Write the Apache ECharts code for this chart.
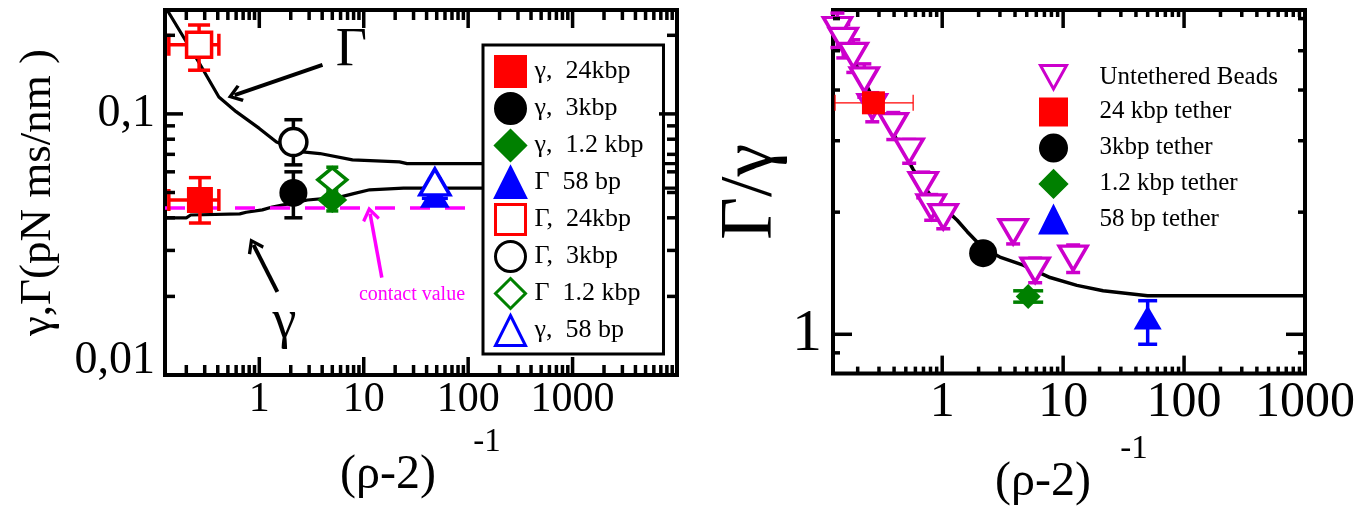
<!DOCTYPE html>
<html>
<head>
<meta charset="utf-8">
<script src="https://cdn.jsdelivr.net/npm/echarts@6/dist/echarts.min.js"></script>
<style>
html, body { margin: 0; padding: 0; background: #fff; }
#chart { width: 1371px; height: 511px; }
</style>
</head>
<body>
<div id="chart"></div>
<script>
var FONT = 'Liberation Serif';

// ---------- left panel: gamma, Gamma vs (rho-2)^-1 ----------
var leftXRange = [0.125, 10000];
var leftYRange = [0.01, 0.25];
var leftXTicks = [1, 10, 100, 1000];
var leftXTickLabels = ['1', '10', '100', '1000'];
var leftYTicks = [0.01, 0.1];
var leftYTickLabels = ['0,01', '0,1'];

var bigGammaCurveX = [0.125, 0.136, 0.2, 0.265, 0.41, 0.6, 1.0, 1.46, 2.59, 3.8, 7.8, 22, 26, 10000];
var bigGammaCurveY = [0.258, 0.244, 0.189, 0.157, 0.116, 0.102, 0.088, 0.078, 0.0715, 0.0705, 0.0667, 0.0655, 0.0645, 0.0645];
var smallGammaCurveX = [0.125, 0.2, 0.22, 0.65, 0.75, 1.07, 1.33, 1.9, 2.9, 5.9, 8, 11.4, 24, 10000];
var smallGammaCurveY = [0.0400, 0.0400, 0.0410, 0.0414, 0.0420, 0.0429, 0.0440, 0.0452, 0.0468, 0.0480, 0.0495, 0.0512, 0.0520, 0.0520];
var contactX = [0.125, 100];
var contactY = [0.0436, 0.0436];

// [x, y, yLow, yHigh, xLow, xHigh]
var gamma24 = [[0.27, 0.0468, 0.0382, 0.057, 0.136, 0.41]];
var gamma3 = [[2.12, 0.0498, 0.040, 0.060]];
var gamma12 = [[5.0, 0.0468, 0.0425, 0.0515]];
var bigGamma58 = [[48, 0.0488, 0.0475, 0.050]];
var bigGamma24 = [[0.265, 0.184, 0.147, 0.219, 0.136, 0.41]];
var bigGamma3 = [[2.12, 0.078, 0.0638, 0.095]];
var bigGamma12 = [[5.0, 0.0559, 0.050, 0.0625]];
var gamma58 = [[48, 0.0549, 0.0535, 0.0563]];

var leftNames = ['γ,  24kbp', 'γ,  3kbp', 'γ,  1.2 kbp', 'Γ  58 bp', 'Γ,  24kbp', 'Γ,  3kbp', 'Γ  1.2 kbp', 'γ,  58 bp'];

// annotations (data coords)
var bigGammaArrow = [[4.03, 0.154], [0.58, 0.118]];
var smallGammaArrow = [[1.49, 0.0208], [0.88, 0.0315]];
var contactArrow = [[14.9, 0.0236], [11.5, 0.0415]];
var bigGammaLabel = [7.6, 0.175];
var smallGammaLabel = [1.74, 0.0158];
var contactLabel = [29, 0.0203];

// ---------- right panel: Gamma/gamma ----------
var rightXRange = [0.125, 1000];
var rightYRange = [0.8, 6.3];
var rightXTicks = [1, 10, 100, 1000];
var rightXTickLabels = ['1', '10', '100', '1000'];
var rightYTicks = [1];
var rightYTickLabels = ['1'];

var ratioCurveX = [0.125, 0.17, 0.27, 0.4, 0.575, 0.8, 1.33, 1.61, 2.18, 3.0, 4.67, 7.8, 13, 21.4, 50, 1000];
var ratioCurveY = [6.1, 5.0, 3.8, 3.1, 2.55, 2.2, 1.91, 1.79, 1.63, 1.55, 1.48, 1.38, 1.32, 1.28, 1.245, 1.245];

var beadsX = [0.136, 0.152, 0.184, 0.227, 0.264, 0.394, 0.533, 0.697, 0.811, 1.02, 3.86, 5.87, 12.1];
var beadsY = [5.64, 5.30, 4.87, 4.24, 3.64, 3.27, 2.83, 2.34, 2.06, 1.95, 1.79, 1.44, 1.54];
var beadsErr = [0.55, 0.5, 0.45, 0.4, 0.3, 0.25, 0.19, 0.17, 0.15, 0.13, 0.12, 0.1, 0.12];
var tether24 = [[0.27, 3.72, null, null, 0.13, 0.575]];
var tether3 = [[2.18, 1.585]];
var tether12 = [[5.14, 1.24, 1.20, 1.28]];
var tether58 = [[50, 1.10, 0.945, 1.21]];

var rightNames = ['Untethered Beads', '24 kbp tether', '3kbp tether', '1.2 kbp tether', '58 bp tether'];

var DOWN_TRI = 'path://M0,0 L10,0 L5,9 Z';
var CHEVRON = 'path://M5,0 L10,8 L8.6,9.4 L5,3.6 L1.4,9.4 L0,8 Z';

function zip(xs, ys) {
    return xs.map(function (x, i) { return [x, ys[i]]; });
}
function pts(rows) {
    return rows.map(function (r) { return [r[0], r[1]]; });
}
function minorTicks(range) {
    var out = [];
    for (var d = 0.01; d < range[1]; d *= 10) {
        for (var k = 2; k <= 9; k++) {
            var v = +(k * d).toPrecision(3);
            if (v > range[0] && v < range[1]) out.push(v);
        }
    }
    return out;
}
function labelFmt(vals, labs) {
    return function (v) {
        for (var i = 0; i < vals.length; i++) {
            if (Math.abs(Math.log10(v) - Math.log10(vals[i])) < 1e-6) return labs[i];
        }
        return '';
    };
}

function tickSeries(grid, vals, isX, len, refRange) {
    var ref = refRange[0];
    return {
        type: 'custom', xAxisIndex: grid, yAxisIndex: grid, silent: true, z: 5, clip: false,
        data: vals.map(function (v) { return isX ? [v, ref] : [ref, v]; }),
        encode: { x: 0, y: 1 },
        renderItem: function (params, api) {
            var cs = params.coordSys;
            var p = api.coord([api.value(0), api.value(1)]);
            var st = { stroke: '#000', lineWidth: 3.5 };
            if (isX) {
                return { type: 'group', children: [
                    { type: 'line', shape: { x1: p[0], y1: cs.y + cs.height, x2: p[0], y2: cs.y + cs.height - len }, style: st },
                    { type: 'line', shape: { x1: p[0], y1: cs.y, x2: p[0], y2: cs.y + len }, style: st }
                ] };
            }
            return { type: 'group', children: [
                { type: 'line', shape: { x1: cs.x, y1: p[1], x2: cs.x + len, y2: p[1] }, style: st },
                { type: 'line', shape: { x1: cs.x + cs.width, y1: p[1], x2: cs.x + cs.width - len, y2: p[1] }, style: st }
            ] };
        }
    };
}

function errSeries(grid, rows, color, capW, lw) {
    return {
        type: 'custom', xAxisIndex: grid, yAxisIndex: grid, silent: true, z: 2,
        dimensions: ['x', 'y', 'ylo', 'yhi', 'xlo', 'xhi'],
        data: rows.map(function (r) {
            return [r[0], r[1], r[2] || r[1], r[3] || r[1], r[4] || r[0], r[5] || r[0]];
        }),
        encode: { x: 0, y: 1 },
        renderItem: function (params, api) {
            var x = api.value(0), y = api.value(1);
            var c = api.coord([x, y]);
            var st = { stroke: color, lineWidth: lw };
            var ch = [];
            if (api.value(2) !== api.value(3)) {
                var lo = api.coord([x, api.value(2)]), hi = api.coord([x, api.value(3)]);
                ch.push({ type: 'line', shape: { x1: c[0], y1: lo[1], x2: c[0], y2: hi[1] }, style: st });
                ch.push({ type: 'line', shape: { x1: c[0] - capW / 2, y1: lo[1], x2: c[0] + capW / 2, y2: lo[1] }, style: st });
                ch.push({ type: 'line', shape: { x1: c[0] - capW / 2, y1: hi[1], x2: c[0] + capW / 2, y2: hi[1] }, style: st });
            }
            if (api.value(4) !== api.value(5)) {
                var l = api.coord([api.value(4), y]), r = api.coord([api.value(5), y]);
                ch.push({ type: 'line', shape: { x1: l[0], y1: c[1], x2: r[0], y2: c[1] }, style: st });
                ch.push({ type: 'line', shape: { x1: l[0], y1: c[1] - capW / 2, x2: l[0], y2: c[1] + capW / 2 }, style: st });
                ch.push({ type: 'line', shape: { x1: r[0], y1: c[1] - capW / 2, x2: r[0], y2: c[1] + capW / 2 }, style: st });
            }
            return { type: 'group', children: ch };
        }
    };
}

function scatter(grid, name, rows, symbol, size, fill, stroke, bw) {
    return {
        type: 'scatter', name: name, xAxisIndex: grid, yAxisIndex: grid, silent: true, z: 3,
        data: pts(rows), symbol: symbol, symbolSize: size,
        itemStyle: { color: fill, borderColor: stroke, borderWidth: bw, opacity: 1 }
    };
}

function curve(grid, xs, ys, color, width, type) {
    return {
        type: 'line', xAxisIndex: grid, yAxisIndex: grid, silent: true, z: 1,
        data: zip(xs, ys), showSymbol: false, symbol: 'none',
        lineStyle: { color: color, width: width, type: type || 'solid' }
    };
}

var beadsRows = beadsX.map(function (x, i) {
    return [x, beadsY[i], beadsY[i] - beadsErr[i], beadsY[i] + beadsErr[i]];
});

// x-axis title: "(rho-2)" with a raised "-1" to the right, as two rich lines
function xAxis(grid, range, vals, labs, fs, nameGap, padR, padL) {
    return {
        type: 'log', logBase: 10, gridIndex: grid, min: range[0], max: range[1],
        axisLine: { show: false }, axisTick: { show: false }, splitLine: { show: false },
        axisLabel: { margin: 4, fontSize: fs, fontFamily: FONT, color: '#000', formatter: labelFmt(vals, labs) },
        name: '{s|-1}\n{m|(ρ-2)}', nameLocation: 'middle', nameGap: nameGap,
        nameTextStyle: {
            fontFamily: FONT, color: '#000', align: 'center',
            rich: {
                s: { fontSize: 33, fontFamily: FONT, color: '#000', lineHeight: 20, padding: [0, 0, 0, padL] },
                m: { fontSize: 48, fontFamily: FONT, color: '#000', lineHeight: 46, padding: [0, padR, 0, 0] }
            }
        }
    };
}

var chart = echarts.init(document.getElementById('chart'), null, { renderer: 'canvas' });

chart.setOption({
    animation: false,
    backgroundColor: '#fff',
    grid: [
        { left: 165, top: 10, width: 512, height: 365, show: true, borderColor: '#000', borderWidth: 4, backgroundColor: 'transparent' },
        { left: 833, top: 10, width: 472, height: 365, show: true, borderColor: '#000', borderWidth: 4, backgroundColor: 'transparent' }
    ],
    xAxis: [
        xAxis(0, leftXRange, leftXTicks, leftXTickLabels, 42, 53, 66, 132),
        xAxis(1, rightXRange, rightXTicks, rightXTickLabels, 50, 60, 52, 130)
    ],
    yAxis: [
        {
            type: 'log', logBase: 10, gridIndex: 0, min: leftYRange[0], max: leftYRange[1],
            axisLine: { show: false }, axisTick: { show: false }, splitLine: { show: false },
            axisLabel: {
                margin: 10, fontSize: 46, fontFamily: FONT, color: '#000',
                formatter: function (v) {
                    var s = labelFmt(leftYTicks, leftYTickLabels)(v);
                    return s === leftYTickLabels[0] ? '{lo|' + s + '}' : s;
                },
                rich: { lo: { fontSize: 46, fontFamily: FONT, color: '#000', padding: [0, 0, 28, 0] } }
            },
            name: 'γ,Γ(pN ms/nm )', nameLocation: 'middle', nameGap: 104, nameRotate: 90,
            nameTextStyle: { fontSize: 45, fontFamily: FONT, color: '#000' }
        },
        {
            type: 'log', logBase: 10, gridIndex: 1, min: rightYRange[0], max: rightYRange[1],
            axisLine: { show: false }, axisTick: { show: false }, splitLine: { show: false },
            axisLabel: { margin: 11, fontSize: 60, fontFamily: FONT, color: '#000', formatter: labelFmt(rightYTicks, rightYTickLabels) },
            name: 'Γ/γ', nameLocation: 'middle', nameGap: 40, nameRotate: 90,
            nameTextStyle: { fontSize: 74, fontFamily: FONT, color: '#000' }
        }
    ],
    legend: [
        {
            data: leftNames, orient: 'vertical', left: 483, top: 45, padding: [10, 20, 7, 11],
            itemWidth: 30, itemHeight: 30, itemGap: 4, selectedMode: false,
            borderColor: '#000', borderWidth: 3, backgroundColor: '#fff',
            itemStyle: { borderWidth: 3 },
            formatter: function (n) { return '{p|}' + n; },
            textStyle: { fontFamily: FONT, fontSize: 26, color: '#000', lineHeight: 30, rich: { p: { width: 4 } } }
        },
        {
            data: rightNames, orient: 'vertical', left: 1039, top: 64, padding: 0,
            itemWidth: 26, itemHeight: 26, itemGap: 7, selectedMode: false,
            itemStyle: { borderWidth: 3 },
            formatter: function (n) { return '{p|}' + n; },
            textStyle: { fontFamily: FONT, fontSize: 25, color: '#000', lineHeight: 26, rich: { p: { width: 28 } } }
        }
    ],
    series: [
        // axis ticks
        tickSeries(0, leftXTicks, true, 18, leftYRange),
        tickSeries(0, minorTicks(leftXRange), true, 10, leftYRange),
        tickSeries(0, [0.1], false, 18, leftXRange),
        tickSeries(0, minorTicks(leftYRange), false, 10, leftXRange),
        tickSeries(1, [1, 10, 100], true, 18, rightYRange),
        tickSeries(1, minorTicks(rightXRange), true, 7, rightYRange),
        tickSeries(1, rightYTicks, false, 19, rightXRange),
        tickSeries(1, minorTicks(rightYRange), false, 7, rightXRange),

        // left curves
        curve(0, bigGammaCurveX, bigGammaCurveY, '#000', 3.2),
        curve(0, smallGammaCurveX, smallGammaCurveY, '#000', 3.2),
        curve(0, contactX, contactY, '#ff00ff', 3.5, [20, 15]),

        // left error bars
        errSeries(0, gamma24, '#ff0000', 22, 3.5),
        errSeries(0, bigGamma24, '#ff0000', 22, 3.5),
        errSeries(0, gamma3, '#000', 18, 3.5),
        errSeries(0, bigGamma3, '#000', 18, 3.5),
        errSeries(0, gamma12, '#008000', 12, 3.5),
        errSeries(0, bigGamma12, '#008000', 12, 3.5),
        errSeries(0, bigGamma58, '#0000ff', 26, 3.5),
        errSeries(0, gamma58, '#0000ff', 14, 3.5),

        // left points
        scatter(0, leftNames[0], gamma24, 'rect', 26, '#ff0000', '#ff0000', 0),
        scatter(0, leftNames[1], gamma3, 'circle', 28, '#000', '#000', 0),
        scatter(0, leftNames[2], gamma12, 'diamond', [30, 26], '#008000', '#008000', 0),
        scatter(0, leftNames[3], bigGamma58, 'triangle', [30, 25], '#0000ff', '#0000ff', 0),
        scatter(0, leftNames[4], bigGamma24, 'rect', 25, '#fff', '#ff0000', 3.5),
        scatter(0, leftNames[5], bigGamma3, 'circle', 27, '#fff', '#000', 3.5),
        scatter(0, leftNames[6], bigGamma12, 'diamond', [29, 24], '#fff', '#008000', 3.5),
        scatter(0, leftNames[7], gamma58, 'triangle', [30, 26], '#fff', '#0000ff', 3.5),

        // left annotations
        {
            type: 'line', xAxisIndex: 0, yAxisIndex: 0, data: [], silent: true, z: 6,
            markLine: {
                silent: true, animation: false,
                symbol: ['none', CHEVRON], symbolSize: [18, 15],
                label: { show: false },
                lineStyle: { color: '#000', width: 4, type: 'solid' },
                data: [
                    [{ coord: bigGammaArrow[0] }, { coord: bigGammaArrow[1] }],
                    [{ coord: smallGammaArrow[0] }, { coord: smallGammaArrow[1] }],
                    [{ coord: contactArrow[0], lineStyle: { color: '#ff00ff', width: 3.5 } },
                     { coord: contactArrow[1], lineStyle: { color: '#ff00ff', width: 3.5 } }]
                ]
            },
            markPoint: {
                silent: true, animation: false, symbol: 'circle', symbolSize: 1,
                itemStyle: { color: 'rgba(0,0,0,0)' },
                label: { show: true, position: 'inside', formatter: '{b}', fontFamily: FONT, color: '#000', fontSize: 54 },
                data: [
                    { name: 'Γ', coord: bigGammaLabel },
                    { name: 'γ', coord: smallGammaLabel },
                    { name: 'contact value', coord: contactLabel, label: { fontSize: 20, color: '#ff00ff' } }
                ]
            }
        },

        // right panel
        curve(1, ratioCurveX, ratioCurveY, '#000', 3.5),
        errSeries(1, beadsRows, '#cc00cc', 14, 3.5),
        errSeries(1, tether24, '#ff0000', 16, 1.2),
        errSeries(1, tether12, '#008000', 30, 3.5),
        errSeries(1, tether58, '#0000ff', 19, 3.5),
        scatter(1, rightNames[0], beadsRows, DOWN_TRI, [28, 24], '#fff', '#cc00cc', 3.5),
        scatter(1, rightNames[1], tether24, 'rect', 23, '#ff0000', '#ff0000', 0),
        scatter(1, rightNames[2], tether3, 'circle', 28, '#000', '#000', 0),
        scatter(1, rightNames[3], tether12, 'diamond', 25, '#008000', '#008000', 0),
        scatter(1, rightNames[4], tether58, 'triangle', [28, 24], '#0000ff', '#0000ff', 0)
    ]
});
</script>
</body>
</html>
